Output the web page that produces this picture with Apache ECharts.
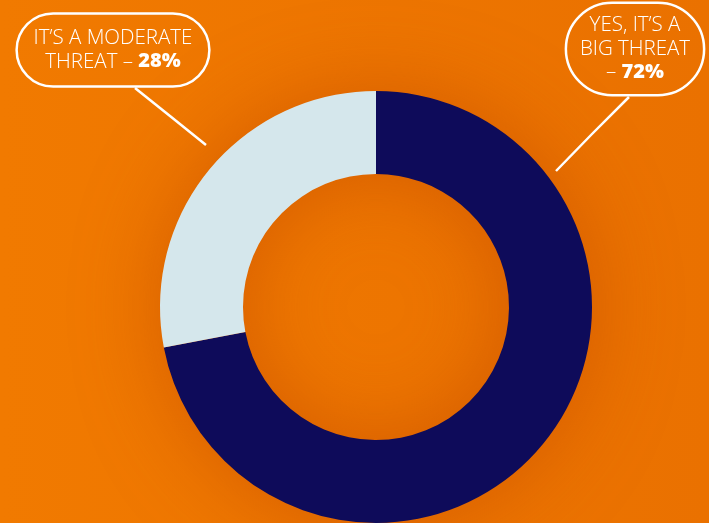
<!DOCTYPE html>
<html>
<head>
<meta charset="utf-8">
<style>
  html, body { margin: 0; padding: 0; }
  #chart { width: 709px; height: 523px; }
</style>
<script src="https://cdn.jsdelivr.net/npm/echarts@6/dist/echarts.min.js"></script>
</head>
<body>
<div id="chart"></div>
<script>
// Survey answers: caption lines for each slice and its share in percent
const answerLabels = ['YES, IT\u2019S A\nBIG THREAT\n\u2013', 'IT\u2019S A MODERATE\nTHREAT \u2013'];
const answerShares = [72, 28];
const sliceColors = ['#0E0B5A', '#D5E7EC'];

const chart = echarts.init(document.getElementById('chart'), null, { renderer: 'canvas' });

const pieCenter = [376, 307];
const pieRadius = [133, 216];

// Callout placement for each slice: pill centre and leader line
const callouts = [
  { x: 635, y: 49, padding: [11, 14, 11, 14], line: [[556, 171], [592, 134], [629, 97]] },
  { x: 113, y: 50, padding: [13, 17, 13, 17], line: [[206, 145], [170, 116], [135, 88]] }
];

const pieData = answerLabels.map((name, i) => ({
  name: name,
  value: answerShares[i],
  itemStyle: { color: sliceColors[i] },
  label: { padding: callouts[i].padding }
}));

chart.setOption({
  backgroundColor: {
    type: 'linear', x: 0, y: 0, x2: 1, y2: 0,
    colorStops: [
      { offset: 0, color: '#F17A00' },
      { offset: 1, color: '#EA7100' }
    ]
  },
  animation: false,
  series: [
    {
      // soft dark halo behind the ring
      type: 'pie',
      silent: true,
      z: 1,
      center: pieCenter,
      radius: pieRadius,
      label: { show: false },
      labelLine: { show: false },
      emphasis: { disabled: true },
      itemStyle: {
        color: '#E46A00',
        shadowBlur: 80,
        shadowColor: 'rgba(190, 70, 0, 0.5)'
      },
      data: [{ value: answerShares.reduce((a, b) => a + b, 0), name: '' }]
    },
    {
      type: 'pie',
      z: 2,
      center: pieCenter,
      radius: pieRadius,
      startAngle: 90,
      clockwise: true,
      avoidLabelOverlap: false,
      emphasis: { disabled: true },
      itemStyle: { borderWidth: 0 },
      label: {
        show: true,
        position: 'outside',
        color: '#FFFFFF',
        fontFamily: 'Open Sans',
        fontSize: 20.5,
        fontWeight: 350,
        lineHeight: 23.5,
        align: 'center',
        borderColor: '#FFFFFF',
        borderWidth: 2.5,
        borderRadius: 48,
        formatter: (p) => p.name + ' {b|' + p.value + '%}',
        rich: {
          b: {
            color: '#FFFFFF',
            fontFamily: 'Open Sans',
            fontSize: 20,
            fontWeight: 800,
            lineHeight: 23.5
          }
        }
      },
      labelLine: {
        show: true,
        lineStyle: { color: '#FFFFFF', width: 2.5 }
      },
      labelLayout: (params) => {
        const c = callouts[params.dataIndex];
        return {
          x: c.x,
          y: c.y,
          align: 'center',
          verticalAlign: 'middle',
          labelLinePoints: c.line
        };
      },
      data: pieData
    }
  ]
});
</script>
</body>
</html>
